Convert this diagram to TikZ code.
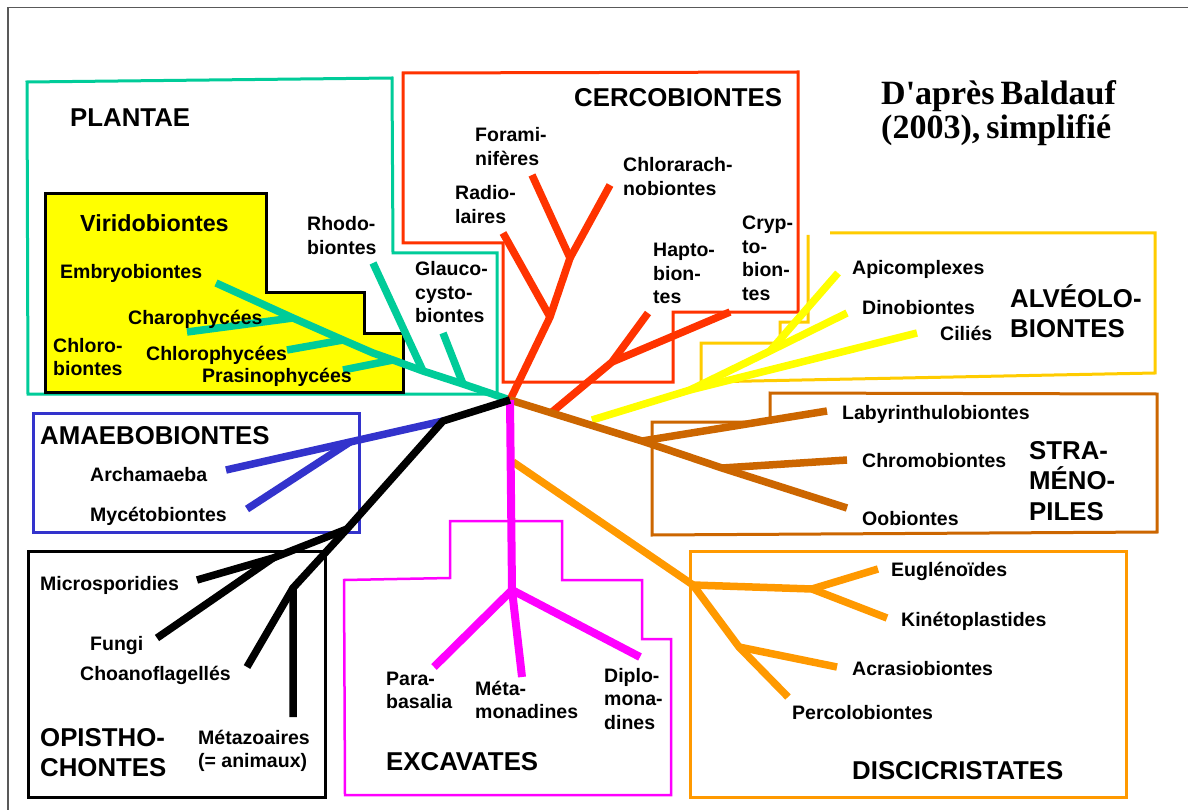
\documentclass[tikz,border=0pt]{standalone}
\usepackage{fontspec}
\setmainfont{Liberation Sans}
\newfontfamily\titlefont{Liberation Serif}
\definecolor{cPlant}{HTML}{00CC99}
\definecolor{cRed}{HTML}{FF3300}
\definecolor{cGold}{HTML}{FFCC00}
\definecolor{cYel}{HTML}{FFFF00}
\definecolor{cBrown}{HTML}{CC6600}
\definecolor{cOrange}{HTML}{FF9900}
\definecolor{cMag}{HTML}{FF00FF}
\definecolor{cBlue}{HTML}{3333CC}
\newcommand{\twol}[2]{\vtop{\hbox{#1}\hbox{#2}}}
\newcommand{\threel}[3]{\vtop{\hbox{#1}\hbox{#2}\hbox{#3}}}
\newcommand{\fourl}[4]{\vtop{\hbox{#1}\hbox{#2}\hbox{#3}\hbox{#4}}}
\newcommand{\tightsp}{\spaceskip=0.18em plus 0.05em\relax}
\begin{document}
\begin{tikzpicture}[x=1pt,y=-1pt,
  br/.style={line width=7.5pt, line join=round},
  bx/.style={line width=3pt},
  lab/.style={anchor=base west, inner sep=0pt, font=\fontsize{19.5}{23.5}\selectfont\bfseries},
  mid/.style={anchor=base west, inner sep=0pt, font=\fontsize{23.3}{28}\selectfont\bfseries},
  big/.style={anchor=base west, inner sep=0pt, font=\fontsize{25.8}{30.5}\selectfont\bfseries},
  ttl/.style={anchor=base west, inner sep=0pt, font=\titlefont\fontsize{34}{33.5}\selectfont\bfseries}
]
\useasboundingbox (0,0) rectangle (1188,810);
\fill[white] (0,0) rectangle (1188,810);
% frame
\draw[black!65, line width=1.5pt] (8,810) -- (8,7.5) -- (1188,7.5);

% ---------- boxes ----------
\draw[cPlant,bx] (27,82) -- (392,78) -- (393,253) -- (497,253) -- (497,394) -- (28,394) -- cycle;
\filldraw[fill=cYel, draw=black, bx] (45,194) -- (266,194) -- (266,292) -- (364,292) -- (364,333) -- (403,333) -- (403,392) -- (45,392) -- cycle;
\draw[cRed,bx] (403,73) -- (798,72) -- (798,312) -- (673,312) -- (673,382) -- (503,382) -- (503,243) -- (403,243) -- cycle;
\draw[cGold,bx] (808,235) -- (808,322) -- (780,322) -- (780,343) -- (701,343) -- (701,382) -- (1155,373) -- (1155,233) -- (830,233);
\draw[cBrown,bx] (770,393) -- (1157,394) -- (1157,532) -- (652,535) -- (652,422) -- (770,422) -- cycle;
\draw[cOrange,bx] (690,551) rectangle (1126,797);
\draw[cMag,line width=2.5pt] (344,580) -- (450,578) -- (450,521) -- (562,521) -- (562,580) -- (642,580) -- (642,639) -- (671,639) -- (671,795) -- (345,795) -- cycle;
\draw[cBlue,bx] (33,413) rectangle (359,532);
\draw[black,bx] (28,551) rectangle (325,797);

% ---------- coordinates ----------
\coordinate (root) at (510,400);
% plantae
\coordinate (tA) at (463,384);
\coordinate (tB) at (423,371);
\coordinate (tC) at (393,360);
\coordinate (tD) at (373,353);
\coordinate (tE) at (343,340);
\coordinate (tF) at (293,318);
\coordinate (tEmb) at (216,283);
\coordinate (tCha) at (187,332);
\coordinate (tChl) at (287,350);
\coordinate (tPra) at (343,370);
\coordinate (tRho) at (373,263);
\coordinate (tGla) at (443,333);
% cercobiontes
\coordinate (rA) at (550,317);
\coordinate (rB) at (570,258);
\coordinate (rFor) at (532,175);
\coordinate (rRad) at (503,233);
\coordinate (rChl) at (610,185);
\coordinate (rC) at (552,412);
\coordinate (rD) at (612,362);
\coordinate (rHap) at (648,313);
\coordinate (rCry) at (730,312);
% alveolobiontes
\coordinate (yA) at (592,420);
\coordinate (yB) at (690,390);
\coordinate (yC) at (770,351);
\coordinate (yCil) at (917,333);
\coordinate (yDin) at (847,313);
\coordinate (yApi) at (838,273);
% stramenopiles
\coordinate (bA) at (642,441);
\coordinate (bB) at (722,468);
\coordinate (bLab) at (827,411);
\coordinate (bChr) at (847,460);
\coordinate (bOob) at (847,508);
% discicristates
\coordinate (oA) at (513,462);
\coordinate (oB) at (693,585);
\coordinate (oC) at (739,647);
\coordinate (oD) at (812,589);
\coordinate (oEug) at (878,569);
\coordinate (oKin) at (887,618);
\coordinate (oAcr) at (837,667);
\coordinate (oPer) at (788,697);
% excavates
\coordinate (mA) at (512,590);
\coordinate (mPar) at (434,667);
\coordinate (mMet) at (522,677);
\coordinate (mDip) at (640,657);
% amaebobiontes / opisthochontes
\coordinate (kA) at (443,421);
\coordinate (uA) at (350,442);
\coordinate (uArc) at (226,470);
\coordinate (uMyc) at (247,509);
\coordinate (kB) at (347,529);
\coordinate (kC) at (293,588);
\coordinate (kD) at (273,558);
\coordinate (kMet) at (293,717);
\coordinate (kCho) at (247,667);
\coordinate (kMic) at (197,580);
\coordinate (kFun) at (157,638);

% ---------- branches ----------
\draw[cPlant,br] (root) -- (tA) -- (tB) -- (tC) -- (tD) -- (tE) -- (tF) -- (tEmb);
\draw[cPlant,br] (tCha) -- (tF);
\draw[cPlant,br] (tChl) -- (tE);
\draw[cPlant,br] (tPra) -- (tC);
\draw[cPlant,br] (tRho) -- (tB);
\draw[cPlant,br] (tGla) -- (tA);

\draw[cRed,br] (root) -- (rA) -- (rB) -- (rFor);
\draw[cRed,br] (rA) -- (rRad);
\draw[cRed,br] (rB) -- (rChl);
\draw[cRed,br] (rC) -- (rD) -- (rHap);
\draw[cRed,br] (rD) -- (rCry);

\draw[cYel,br] (yA) -- (yB) -- (yCil);
\draw[cYel,br] (yB) -- (yC) -- (yDin);
\draw[cYel,br] (yC) -- (yApi);

\draw[cBrown,br] (root) -- (bA) -- (bB) -- (bOob);
\draw[cBrown,br] (bA) -- (bLab);
\draw[cBrown,br] (bB) -- (bChr);

\draw[cOrange,br] (oA) -- (oB) -- (oC) -- (oPer);
\draw[cOrange,br] (oB) -- (oD) -- (oEug);
\draw[cOrange,br] (oD) -- (oKin);
\draw[cOrange,br] (oC) -- (oAcr);

\draw[cMag,line width=8pt] (root) -- (mA) -- (mPar);
\draw[cMag,line width=8pt] (mA) -- (mMet);
\draw[cMag,line width=8pt] (mA) -- (mDip);

\draw[cBlue,br] (kA) -- (uA) -- (uArc);
\draw[cBlue,br] (uA) -- (uMyc);

\draw[black,br] (root) -- (kA) -- (kB) -- (kC) -- (kMet);
\draw[black,br] (kC) -- (kCho);
\draw[black,br] (kB) -- (kD) -- (kMic);
\draw[black,br] (kD) -- (kFun);

% ---------- labels ----------
\node[ttl] (title) at (881,105) {\tightsp\twol{D'après Baldauf}{(2003), simplifié}};

\node[big] (plantae) at (70,127) {PLANTAE};
\node[mid] (virido) at (80,232) {Viridobiontes};
\node[lab] (embryo) at (60,279) {Embryobiontes};
\node[lab] (charo) at (128,324) {Charophycées};
\node[lab] (chloro) at (53,352) {\twol{Chloro-}{biontes}};
\node[lab] (chlorop) at (146,360) {Chlorophycées};
\node[lab] (prasino) at (202,382) {Prasinophycées};
\node[lab] (rhodo) at (307,231) {\twol{Rhodo-}{biontes}};
\node[lab] (glauco) at (415,276) {\threel{Glauco-}{cysto-}{biontes}};

\node[big] (cerco) at (574,107) {CERCOBIONTES};
\node[lab] (forami) at (475,142) {\twol{Forami-}{nifères}};
\node[lab] (radio) at (455,200) {\twol{Radio-}{laires}};
\node[lab] (chlorar) at (623,172) {\twol{Chlorarach-}{nobiontes}};
\node[lab] (hapto) at (653,257) {\threel{Hapto-}{bion-}{tes}};
\node[lab] (crypto) at (742,230) {\fourl{Cryp-}{to-}{bion-}{tes}};

\node[lab] (apicom) at (852,274) {Apicomplexes};
\node[lab] (dino) at (862,314) {Dinobiontes};
\node[lab] (cilies) at (940,340) {Ciliés};
\node[big] (alveo) at (1010,307) {\twol{ALVÉOLO-}{BIONTES}};

\node[lab] (laby) at (842,419) {Labyrinthulobiontes};
\node[lab] (chromo) at (862,467) {Chromobiontes};
\node[lab] (oobio) at (862,525) {Oobiontes};
\node[big] (strameno) at (1029,459) {\threel{STRA-}{MÉNO-}{PILES}};

\node[lab] (eugleno) at (891,576) {Euglénoïdes};
\node[lab] (kineto) at (901,626) {Kinétoplastides};
\node[lab] (acrasio) at (852,675) {Acrasiobiontes};
\node[lab] (percolo) at (792,719) {Percolobiontes};
\node[big] (discicr) at (852,779) {DISCICRISTATES};

\node[lab] (parabas) at (386,685) {\twol{Para-}{basalia}};
\node[lab] (metamon) at (475,695) {\twol{Méta-}{monadines}};
\node[lab] (diplo) at (604,682) {\threel{Diplo-}{mona-}{dines}};
\node[big] (excav) at (386,770) {EXCAVATES};

\node[big] (amaebo) at (40,444) {AMAEBOBIONTES};
\node[lab] (archam) at (90,481) {Archamaeba};
\node[lab] (myceto) at (90,521) {Mycétobiontes};

\node[lab] (micros) at (40,590) {Microsporidies};
\node[lab] (fungi) at (90,650) {Fungi};
\node[lab] (choano) at (80,680) {Choanoflagellés};
\node[big] (opistho) at (40,746) {\twol{OPISTHO-}{CHONTES}};
\node[lab] (metazo) at (198,744) {\twol{Métazoaires}{(= animaux)}};
\end{tikzpicture}
\end{document}
